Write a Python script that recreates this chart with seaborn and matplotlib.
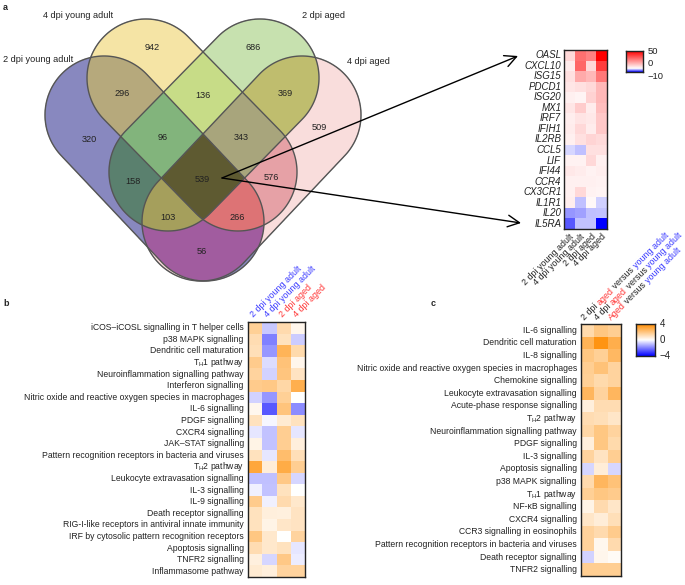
import numpy as np
import pandas as pd
import matplotlib
matplotlib.use("Agg")
import matplotlib.pyplot as plt
import seaborn as sns
from matplotlib.colors import LinearSegmentedColormap, TwoSlopeNorm, Normalize, to_rgb
from matplotlib.patches import Polygon

# ---------------- data ----------------
set_names = ["2 dpi young adult", "4 dpi young adult", "2 dpi aged", "4 dpi aged"]  # B, Y, G, P
venn_regions = ["1000", "0100", "0010", "0001", "1100", "1010", "1001", "0110",
                "0101", "0011", "1110", "1101", "1011", "0111", "1111"]
venn_counts = [320, 942, 686, 509, 296, 158, 56, 136, 576, 369, 96, 266, 103, 343, 539]
venn_colors = ["#8888C0", "#F5E4A5", "#C8E1AF", "#FADEDC", "#B7AA7D", "#5A806E", "#A25CA0",
               "#C8DC87", "#E6A2A6", "#C0BE6E", "#82B47D", "#DE7376", "#A5A05C", "#A8A57D", "#5F5A32"]

genes = ["OASL", "CXCL10", "ISG15", "PDCD1", "ISG20", "MX1", "IRF7", "IFIH1", "IL2RB",
         "CCL5", "LIF", "IFI44", "CCR4", "CX3CR1", "IL1R1", "IL20", "IL5RA"]
conds_a = ["2 dpi young adult", "4 dpi young adult", "2 dpi aged", "4 dpi aged"]
a_2dpi_young = [7.8, 3.9, 5.9, 4.9, 2.9, 4.9, 3.3, 3.9, 2.9, -1.6, 2.5, 4.5, 2.9, 2.9, 3.3, -4.1, -6.5]
a_4dpi_young = [28, 30, 16.7, 5.9, 2.0, 9.8, 5.3, 7.8, 5.9, -2.5, 2.5, 3.9, 2.9, 7.8, -2.5, -3.7, -2.4]
a_2dpi_aged = [24.5, 7.8, 13.7, 7.8, 8.8, 3.9, 4.5, 3.9, 8.4, 5.9, 7.8, 2.5, 2.9, 2.5, 1.4, -2.5, -2.4]
a_4dpi_aged = [50, 38, 26.5, 13.7, 13.7, 12.7, 10.8, 10.8, 7.3, 5.9, 2.9, 3.3, 2.5, 2.0, -1.8, -2.4, -10]

paths_b = ["iCOS\u2013iCOSL signalling in T helper cells", "p38 MAPK signalling",
           "Dendritic cell maturation", r"T$_\mathrm{H}$1 pathway",
           "Neuroinflammation signalling pathway", "Interferon signalling",
           "Nitric oxide and reactive oxygen species in macrophages", "IL-6 signalling",
           "PDGF signalling", "CXCR4 signalling", "JAK\u2013STAT signalling",
           "Pattern recognition receptors in bacteria and viruses", r"T$_\mathrm{H}$2 pathway",
           "Leukocyte extravasation signalling", "IL-3 signalling", "IL-9 signalling",
           "Death receptor signalling", "RIG-I-like receptors in antiviral innate immunity",
           "IRF by cytosolic pattern recognition receptors", "Apoptosis signalling",
           "TNFR2 signalling", "Inflammasome pathway"]
conds_b = ["2 dpi young adult", "4 dpi young adult", "2 dpi aged", "4 dpi aged"]
b_2dpi_young = [1.65, 1.2, 1.1, 1.8, 1.5, 1.8, -0.7, 0.25, 1.0, -0.4, 0.4, 1.0, 3.05, -1.0, -0.25,
                1.8, 1.0, 1.0, 1.95, 1.2, 0.5, 0.7]
b_4dpi_young = [-0.86, -2.0, -1.65, -0.55, -0.7, 1.9, -1.65, -2.6, -0.15, -0.95, -0.95, -0.4, 0.6,
                -1.0, -0.95, -0.25, 0.55, 0.4, 0.8, 0.8, -0.65, 0.55]
b_2dpi_aged = [1.25, 1.0, 2.6, 2.1, 2.0, 1.4, 1.65, 2.05, 0.7, 1.7, 1.7, 2.3, 2.9, 1.9, 1.0, 1.25,
               0.5, 0.85, 0.0, 1.0, 1.9, 1.5]
b_4dpi_aged = [0.3, -0.8, 1.3, 0.3, 0.95, 2.75, 0.0, -1.8, 1.0, -0.4, 0.55, 1.1, 1.7, -0.65, 0.0,
               0.8, 0.95, 0.95, 1.5, -0.4, -0.3, 1.5]

paths_c = ["IL-6 signalling", "Dendritic cell maturation", "IL-8 signalling",
           "Nitric oxide and reactive oxygen species in macrophages", "Chemokine signalling",
           "Leukocyte extravasation signalling", "Acute-phase response signalling",
           r"T$_\mathrm{H}$2 pathway", "Neuroinflammation signalling pathway", "PDGF signalling",
           "IL-3 signalling", "Apoptosis signalling", "p38 MAPK signalling", r"T$_\mathrm{H}$1 pathway",
           "NF-\u03baB signalling", "CXCR4 signalling", "CCR3 signalling in eosinophils",
           "Pattern recognition receptors in bacteria and viruses", "Death receptor signalling",
           "TNFR2 signalling"]
conds_c = [[("2 dpi ", "k"), ("aged", "r"), (" versus ", "k"), ("young adult", "b")],
           [("4 dpi ", "k"), ("aged", "r"), (" versus ", "k"), ("young adult", "b")],
           [("Aged", "r"), (" versus ", "k"), ("young adult", "b")]]
c_2dpi = [1.3, 2.65, 1.95, 1.7, 1.65, 2.5, 0.55, 1.2, 1.4, 0.55, 1.5, -0.65, 1.25, 1.65, 0.4,
          0.85, 1.55, 1.55, -0.7, 1.7]
c_4dpi = [1.95, 3.7, 1.65, 2.1, 1.3, 1.5, 1.2, 1.1, 1.95, 1.95, 0.95, 0.6, 2.5, 1.95, 1.25,
          0.6, 1.25, 0.25, 0.3, 1.7]
c_aged = [1.7, 2.8, 2.45, 1.5, 1.5, 2.5, 1.2, 0.85, 1.5, 1.3, 1.7, -0.65, 2.1, 1.8, 0.85,
          1.1, 1.8, 1.25, 0.15, 1.7]

# ---------------- style ----------------
sns.set_theme(style="white")
plt.rcParams["font.family"] = ["Liberation Sans", "DejaVu Sans"]
plt.rcParams["mathtext.fontset"] = "custom"
plt.rcParams["mathtext.rm"] = "Liberation Sans"
plt.rcParams["mathtext.it"] = "Liberation Sans:italic"
plt.rcParams["mathtext.bf"] = "Liberation Sans:bold"

W, H = 685, 585
fig = plt.figure(figsize=(W / 100, H / 100), dpi=100)
BLUE_T, RED_T = "#3A3AFF", "#FF3535"
tcol = {"k": "#222222", "r": RED_T, "b": BLUE_T}


def rect(x0, y0, x1, y1):
    return [x0 / W, 1 - y1 / H, (x1 - x0) / W, (y1 - y0) / H]


# ---------------- panel a: Venn ----------------
base = fig.add_axes([0, 0, 1, 1])
base.set_xlim(0, W)
base.set_ylim(H, 0)
base.axis("off")

R = 59
stadia = [((104, 115), (205, 222)),   # 2 dpi young adult (blue)
          ((146, 78), (238, 172)),    # 4 dpi young adult (yellow)
          ((260, 78), (168, 172)),    # 2 dpi aged (green)
          ((302, 115), (201, 222))]   # 4 dpi aged (pink)


def in_stadium(X, Y, p1, p2, r):
    p1 = np.asarray(p1, float)
    p2 = np.asarray(p2, float)
    d = p2 - p1
    t = np.clip(((X - p1[0]) * d[0] + (Y - p1[1]) * d[1]) / (d @ d), 0, 1)
    return (X - p1[0] - t * d[0]) ** 2 + (Y - p1[1] - t * d[1]) ** 2 <= r * r


def outline(p1, p2, r, n=80):
    p1 = np.asarray(p1, float)
    p2 = np.asarray(p2, float)
    phi = np.arctan2(p2[1] - p1[1], p2[0] - p1[0])
    a2 = np.linspace(phi - np.pi / 2, phi + np.pi / 2, n)
    a1 = np.linspace(phi + np.pi / 2, phi + 3 * np.pi / 2, n)
    return np.vstack([p2 + r * np.c_[np.cos(a2), np.sin(a2)],
                      p1 + r * np.c_[np.cos(a1), np.sin(a1)]])


step = 0.5
xs = np.arange(0, 400, step) + step / 2
ys = np.arange(0, 300, step) + step / 2
X, Y = np.meshgrid(xs, ys)
masks = [in_stadium(X, Y, p1, p2, R) for p1, p2 in stadia]
img = np.zeros(X.shape + (4,))
for key, col in zip(venn_regions, venn_colors):
    m = np.ones(X.shape, bool)
    for bit, mk in zip(key, masks):
        m &= mk if bit == "1" else ~mk
    img[m, :3] = to_rgb(col)
    img[m, 3] = 1.0
base.imshow(img, extent=(0, 400, 300, 0), interpolation="bilinear", zorder=1)
for p1, p2 in stadia:
    base.add_patch(Polygon(outline(p1, p2, R), closed=True, fill=False,
                           edgecolor="#555555", lw=1.0, zorder=2))

count_pos = [(89, 140), (152, 48), (253, 48), (319, 127), (122, 94), (133, 182), (202, 252),
             (203, 96), (271, 177), (285, 94), (163, 138), (237, 217), (168, 217), (241, 138),
             (202, 179)]
for (x, y), n in zip(count_pos, venn_counts):
    base.text(x, y, str(n), ha="center", va="center", fontsize=6.6, color="#222222", zorder=3)

set_label_pos = [(3, 59), (43, 15), (302, 15), (347, 62)]
for (x, y), s in zip(set_label_pos, set_names):
    base.text(x, y, s, ha="left", va="center", fontsize=6.6, color="#222222")

for tgt in [(518, 56), (521, 223)]:
    base.annotate("", xy=tgt, xytext=(222, 178),
                  arrowprops=dict(arrowstyle="->,head_length=0.7,head_width=0.35",
                                  color="black", lw=1.0, shrinkA=0, shrinkB=0))

for (x, y), s in zip([(3, 8), (3, 303), (431, 304)], ["a", "b", "c"]):
    base.text(x, y, s, ha="left", va="center", fontsize=6.5, fontweight="bold")

# ---------------- colormaps ----------------
cmap_a = LinearSegmentedColormap.from_list("bwr_a", ["#0000FF", "#FFFFFF", "#FF0000"])
norm_a = TwoSlopeNorm(vmin=-10, vcenter=0, vmax=50)
cmap_bc = LinearSegmentedColormap.from_list("bwo", ["#0000FF", "#FFFFFF", "#FF8C00"])
norm_bc = Normalize(vmin=-4, vmax=4)


def frame(ax, lw=1.0):
    for sp in ax.spines.values():
        sp.set_visible(True)
        sp.set_color("#222222")
        sp.set_linewidth(lw)


def draw_cbar(px, cmap, norm, vmin, vmax, ticks, labels, vas, fs=7):
    cax = fig.add_axes(rect(*px))
    grad = np.linspace(vmax, vmin, 256).reshape(-1, 1)
    cax.imshow(grad, aspect="auto", cmap=cmap, norm=norm, extent=(0, 1, vmin, vmax))
    cax.set_ylim(vmin, vmax)
    cax.set_xticks([])
    cax.set_yticks([])
    for v, lab, va in zip(ticks, labels, vas):
        cax.text(1.25, v, lab, transform=cax.get_yaxis_transform(), ha="left", va=va,
                 fontsize=fs, color="#222222")
    frame(cax)


# heatmap a
df_a = pd.DataFrame({c: v for c, v in zip(conds_a, [a_2dpi_young, a_4dpi_young,
                                                     a_2dpi_aged, a_4dpi_aged])}, index=genes)
ax_a = fig.add_axes(rect(564, 50, 607, 229))
sns.heatmap(df_a, ax=ax_a, cmap=cmap_a, norm=norm_a, cbar=False,
            xticklabels=True, yticklabels=True)
ax_a.set_yticklabels(genes, rotation=0, fontsize=7, fontstyle="italic")
ax_a.set_xticklabels(conds_a, rotation=45, ha="right", rotation_mode="anchor", fontsize=6.4)
ax_a.tick_params(length=0, pad=2, colors="#222222")
ax_a.set_xlabel("")
ax_a.set_ylabel("")
frame(ax_a)
draw_cbar((626, 51, 643, 72), cmap_a, norm_a, -10, 50, [50, 0, -10],
          ["50", "0", "\u221210"], ["center", "bottom", "top"], fs=6.8)

# heatmap b
df_b = pd.DataFrame({c: v for c, v in zip(conds_b, [b_2dpi_young, b_4dpi_young,
                                                     b_2dpi_aged, b_4dpi_aged])}, index=paths_b)
ax_b = fig.add_axes(rect(248, 322, 305, 577))
sns.heatmap(df_b, ax=ax_b, cmap=cmap_bc, norm=norm_bc, cbar=False,
            xticklabels=True, yticklabels=True)
ax_b.set_yticklabels(paths_b, rotation=0, fontsize=6.2)
ax_b.xaxis.tick_top()
ax_b.set_xticklabels(conds_b, rotation=45, ha="left", rotation_mode="anchor", fontsize=6.4)
for lab, s in zip(ax_b.get_xticklabels(), conds_b):
    lab.set_color(BLUE_T if "young" in s else RED_T)
ax_b.tick_params(axis="x", length=0, pad=2, top=False, labeltop=True, bottom=False, labelbottom=False)
ax_b.tick_params(axis="y", length=0, pad=3, colors="#222222")
ax_b.set_xlabel("")
ax_b.set_ylabel("")
frame(ax_b)

# heatmap c
df_c = pd.DataFrame({"c1": c_2dpi, "c2": c_4dpi, "c3": c_aged}, index=paths_c)
ax_c = fig.add_axes(rect(581, 324, 621, 576))
sns.heatmap(df_c, ax=ax_c, cmap=cmap_bc, norm=norm_bc, cbar=False,
            xticklabels=False, yticklabels=True)
ax_c.set_yticklabels(paths_c, rotation=0, fontsize=6.2)
ax_c.tick_params(axis="y", length=0, pad=3, colors="#222222")
ax_c.set_xlabel("")
ax_c.set_ylabel("")
frame(ax_c)
draw_cbar((636, 324, 655, 356), cmap_bc, norm_bc, -4, 4, [4, 0, -4],
          ["4", "0", "\u22124"], ["center", "center", "center"], fs=7)

# multicoloured rotated column labels for c
renderer = fig.canvas.get_renderer()


def text_width(s, fs):
    t = fig.text(0, 0, s + "|", fontsize=fs)
    w1 = t.get_window_extent(renderer).width
    t.remove()
    t = fig.text(0, 0, "|", fontsize=fs)
    w2 = t.get_window_extent(renderer).width
    t.remove()
    return w1 - w2


fs_c = 6.4
ang = np.radians(45)
col_w = (621 - 581) / 3
for i, parts in enumerate(conds_c):
    x0 = 581 + col_w * (i + 0.5) - 3
    y0 = 324 - 3
    prefix = ""
    for s, c in parts:
        w = text_width(prefix, fs_c) if prefix else 0.0
        xd = x0 + w * np.cos(ang)
        yd = (H - y0) + w * np.sin(ang)
        fig.text(xd / W, yd / H, s, color=tcol[c], fontsize=fs_c, rotation=45,
                 rotation_mode="anchor", ha="left", va="baseline")
        prefix += s

fig.savefig("out.png", dpi=100)
